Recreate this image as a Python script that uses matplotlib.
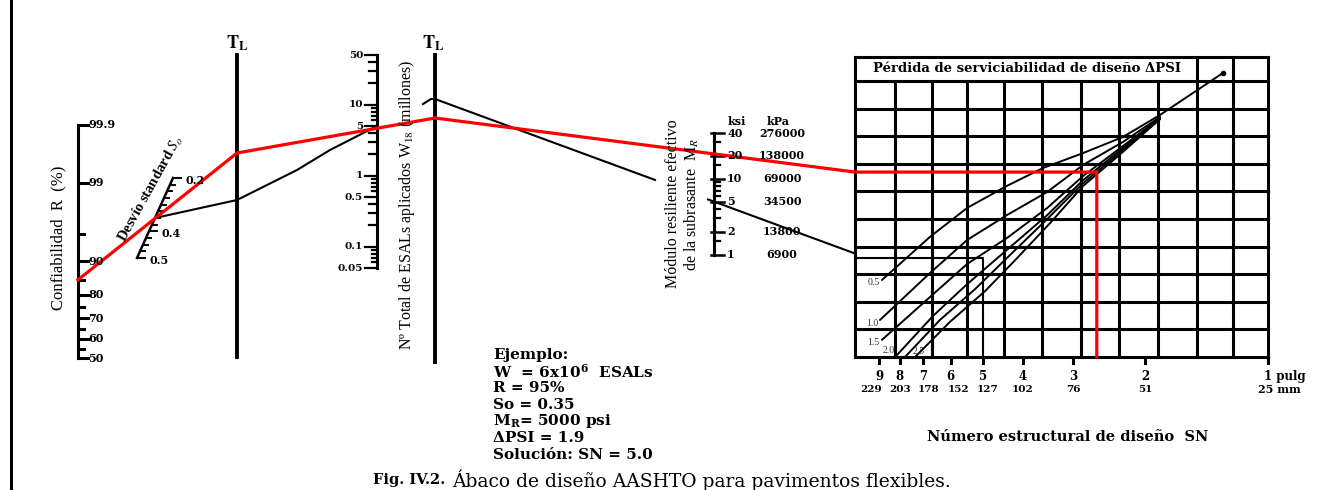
import numpy as np
import matplotlib.pyplot as plt
from statistics import NormalDist

plt.rcParams['font.family'] = ['Liberation Serif', 'DejaVu Serif']
plt.rcParams['mathtext.fontset'] = 'stix'

r_major = [99.9, 99, 90, 80, 70, 60, 50]
r_minor = [95, 85, 75, 65, 55]

s0_ticks = [0.2, 0.225, 0.25, 0.275, 0.3, 0.325, 0.35, 0.375, 0.4, 0.425, 0.45, 0.475, 0.5]
s0_labels = [0.2, 0.4, 0.5]

esal_major = [50, 10, 5, 1, 0.5, 0.1, 0.05]
esal_mid = [40, 30, 20, 4, 3, 2, 0.4, 0.3, 0.2]
esal_minor = [9, 8, 7, 6, 0.9, 0.8, 0.7, 0.6, 0.09, 0.08, 0.07, 0.06]

mr_ksi = [40, 20, 10, 5, 2, 1]
mr_kpa = ['276000', '138000', '69000', '34500', '13800', '6900']
mr_minor = [30, 15, 9, 8, 7, 6, 4, 3, 1.5]

sn_pulg = [9, 8, 7, 6, 5, 4, 3, 2, 1]
sn_mm = [229, 203, 178, 152, 127, 102, 76, 51, 25]

# curvas de perdida de serviciabilidad (SN, fila de la cuadricula)
psi_names = ['0.5', '1.0', '1.5', '2.0', '', '2.5']
psi_sn = [
    [8.85, 6.75, 5.47, 4.37, 3.56, 2.84, 2.27, 1.84, 1.29],
    [8.95, 6.75, 5.47, 4.37, 3.48, 2.84, 2.27, 1.84],
    [8.85, 6.75, 5.47, 4.37, 3.48, 2.84, 2.27, 1.84],
    [8.13, 6.63, 5.47, 4.37, 3.48, 2.84, 2.27, 1.84],
    [7.77, 6.38, 5.23, 4.29, 3.48, 2.84, 2.27, 1.84],
    [7.34, 6.03, 4.94, 4.17, 3.42, 2.84, 2.27, 1.84],
]
psi_row = [
    [2.79, 4.35, 5.40, 6.20, 6.85, 7.39, 7.97, 8.77, 10.29],
    [1.34, 3.04, 4.24, 5.14, 5.98, 6.96, 7.79, 8.70],
    [0.62, 2.17, 3.37, 4.31, 5.40, 6.56, 7.64, 8.66],
    [0.07, 1.49, 2.64, 3.88, 5.14, 6.41, 7.57, 8.66],
    [0.00, 1.34, 2.46, 3.70, 5.00, 6.30, 7.50, 8.62],
    [0.00, 1.27, 2.39, 3.51, 4.86, 6.20, 7.43, 8.62],
]

# lineas del ejemplo
red_R, red_tl1, red_tl2, red_row, red_sn = 85, 153, 118, 6.7, 2.63
blk_s0, blk_tl1, blk_esal, blk_tl2, blk_mr, blk_row, blk_sn = 0.35, 200, 5, 99, 5, 3.6, 5

ejemplo = ['Ejemplo:', r'W  = 6x10$^{\mathbf{6}}$  ESALs', 'R = 95%', 'So = 0.35',
           r'M$_{\mathbf{R}}$= 5000 psi', 'ΔPSI = 1.9', 'Solución: SN = 5.0']

# ---- geometria del abaco (pixeles) ----
R_X, TL1_X, ESAL_X, TL2_X, MR_X = 78, 237, 377, 435, 714
S0_P0, S0_P1 = np.array([173, 178]), np.array([137, 258])
SN_L, SN_R, SN_TOP, SN_BOT, TITLE_TOP = 855, 1268, 81, 357, 57
grid_x = [855, 895, 932, 967, 1004, 1042, 1081, 1119, 1158, 1197, 1233, 1268]
mm_dx = {229: -8, 203: 0, 178: 5, 152: 8, 127: 5}


def r_y(r):
    return 358 - 75.4 * NormalDist().inv_cdf(r / 100)


def esal_y(w):
    return 55 + 71 * np.log10(50 / w)


def mr_y(m):
    return 133 + 76 * np.log10(40 / m)


def sn_x(sn):
    return 1268 - 407.7 * np.log10(np.asarray(sn))


def row_y(r):
    return SN_BOT - 27.6 * np.asarray(r)


def s0_pt(s):
    t = (s - 0.2) / 0.3
    return S0_P0 + t * (S0_P1 - S0_P0)


K = 'black'
SC = 2.2   # grosor de escalas
HB = dict(family='DejaVu Serif', fontweight='bold', math_fontfamily='dejavuserif')

fig = plt.figure(figsize=(13.27, 4.90), dpi=100)
ax = fig.add_axes([0, 0, 1, 1])
ax.set_xlim(0, 1327)
ax.set_ylim(490, 0)
ax.axis('off')

# borde izquierdo
ax.plot([11, 11], [0, 490], color=K, lw=2.2)

# escala de confiabilidad
ax.plot([R_X, R_X], [r_y(99.9), r_y(50)], color=K, lw=SC)
for r in r_major:
    ax.plot([R_X, R_X + 10], [r_y(r)] * 2, color=K, lw=SC)
    ax.text(R_X + 10, r_y(r), f'{r:g}', fontsize=8, ha='left', va='center', **HB)
for r in r_minor:
    ax.plot([R_X, R_X + 6], [r_y(r)] * 2, color=K, lw=SC)
ax.text(58, 238, 'Confiabilidad  R  (%)', rotation=90, fontsize=12, ha='center', va='center')

# escala de desvio standard
ax.plot([S0_P0[0], S0_P1[0]], [S0_P0[1], S0_P1[1]], color=K, lw=1.8)
for s in s0_ticks:
    p = s0_pt(s)
    ln = 8 if s in s0_labels else 5
    ax.plot([p[0], p[0] + ln], [p[1], p[1]], color=K, lw=1.4)
for s in s0_labels:
    p = s0_pt(s)
    ax.text(p[0] + 12, p[1] + 2, f'{s:g}', fontsize=8, ha='left', va='center', **HB)
ax.text(151, 189, r'Desvío standard $S_o$', rotation=61, fontsize=10.5, fontweight='bold',
        ha='center', va='center', rotation_mode='anchor')

# lineas de pivote T_L
ax.plot([TL1_X, TL1_X], [55, 357], color=K, lw=2.8)
ax.plot([TL2_X, TL2_X], [55, 362], color=K, lw=2.8)
for x in (TL1_X, TL2_X - 2):
    ax.text(x, 43, r'$\mathbf{T_L}$', fontsize=13, ha='center', va='center')

# escala de ESALs
ax.plot([ESAL_X, ESAL_X], [esal_y(50), esal_y(0.05)], color=K, lw=SC)
for w in esal_major:
    ax.plot([ESAL_X - 12, ESAL_X], [esal_y(w)] * 2, color=K, lw=1.6)
    ax.text(ESAL_X - 14, esal_y(w), f'{w:g}', fontsize=7.5, ha='right', va='center', **HB)
for w in esal_mid:
    ax.plot([ESAL_X - 8, ESAL_X], [esal_y(w)] * 2, color=K, lw=1.6)
for w in esal_minor:
    ax.plot([ESAL_X - 5, ESAL_X], [esal_y(w)] * 2, color=K, lw=1.6)
ax.text(407, 205, r'Nº Total de ESALs aplicados W$_{18}$ (millones)', rotation=90,
        fontsize=11.5, ha='center', va='center')

# escala de modulo resiliente
ax.plot([MR_X, MR_X], [mr_y(40), mr_y(1)], color=K, lw=SC)
for m, kp in zip(mr_ksi, mr_kpa):
    ax.plot([MR_X - 3, MR_X + 10], [mr_y(m)] * 2, color=K, lw=1.8)
    ax.text(MR_X + 13, mr_y(m), f'{m:g}', fontsize=8, ha='left', va='center', **HB)
    ax.text(782, mr_y(m), kp, fontsize=8, ha='center', va='center', **HB)
for m in mr_minor:
    ax.plot([MR_X, MR_X + 6], [mr_y(m)] * 2, color=K, lw=1.6)
ax.text(737, 121, 'ksi', fontsize=8, ha='center', va='center', **HB)
ax.text(778, 121, 'kPa', fontsize=8, ha='center', va='center', **HB)
ax.text(683, 204, 'Módulo resiliente efectivo\nde la subrasante  M$_R$', rotation=90,
        fontsize=11.5, ha='center', va='center', multialignment='center', linespacing=1.15)

# cuadricula de numero estructural
for y in row_y(np.arange(11)):
    ax.plot([SN_L, SN_R], [y, y], color=K, lw=SC)
ax.plot([SN_L, SN_R], [TITLE_TOP, TITLE_TOP], color=K, lw=SC)
for x in grid_x:
    top = TITLE_TOP if x in (SN_L, 1197, 1233, SN_R) else SN_TOP
    ax.plot([x, x], [top, SN_BOT], color=K, lw=SC)
ax.text(1027, 69, 'Pérdida de serviciabilidad de diseño ΔPSI', fontsize=9.5,
        ha='center', va='center', **HB)

for name, s, r in zip(psi_names, psi_sn, psi_row):
    xs, ys = sn_x(s), row_y(r)
    ax.plot(xs, ys, color=K, lw=1.4, solid_capstyle='round')
    if name in ('0.5', '1.0', '1.5'):
        ax.text(xs[0] - 2, ys[0] + 3, name, fontsize=7, ha='right', va='center', color='#333333')
    elif name == '2.0':
        ax.text(xs[0] - 2, ys[0] - 5, name, fontsize=7, ha='right', va='center', color='#333333')
    elif name == '2.5':
        ax.text(xs[0] - 2, ys[0] - 6, name, fontsize=7, ha='left', va='center', color='#333333')
ax.plot(sn_x(psi_sn[0][-1]), row_y(psi_row[0][-1]), 'o', color=K, ms=3)

for p, mm in zip(sn_pulg, sn_mm):
    x = sn_x(p)
    ax.plot([x, x], [SN_BOT, SN_BOT + 6], color=K, lw=SC)
    if p == 1:
        ax.text(x - 4, 376, '1 pulg', fontsize=8.5, ha='left', va='center', **HB)
        ax.text(x - 10, 389, '25 mm', fontsize=8, ha='left', va='center', **HB)
    else:
        ax.text(x, 376, str(p), fontsize=8.5, ha='center', va='center', **HB)
        ax.text(x + mm_dx.get(mm, 0), 389, str(mm), fontsize=7.5, ha='center', va='center', **HB)
ax.text(1068, 437, 'Número estructural de diseño  SN', fontsize=10.5, ha='center', va='center', **HB)

# linea negra del ejemplo
p0 = s0_pt(blk_s0)
ax.plot([p0[0], TL1_X, 263, 297, 330, ESAL_X], [p0[1], blk_tl1, 187, 170, 150, esal_y(blk_esal)],
        color=K, lw=1.5)
ax.plot([423, 431, TL2_X], [104, 99, blk_tl2], color=K, lw=1.5)
slope = (mr_y(blk_mr) - blk_tl2) / (MR_X - TL2_X)
yb = blk_tl2 + slope * (SN_L - TL2_X)
ax.plot([TL2_X, 655], [blk_tl2, blk_tl2 + slope * (655 - TL2_X)], color=K, lw=1.5)
ax.plot([708, SN_L], [blk_tl2 + slope * (708 - TL2_X), yb], color=K, lw=1.5)
xb = sn_x(blk_sn)
ax.plot([SN_L, xb, xb], [row_y(blk_row), row_y(blk_row), SN_BOT], color=K, lw=1.5)

# linea roja del ejemplo
xr = sn_x(red_sn)
ax.plot([R_X, TL1_X, TL2_X, SN_L, xr, xr],
        [r_y(red_R), red_tl1, red_tl2, row_y(red_row), row_y(red_row), SN_BOT],
        color='#ff0000', lw=2.3, solid_joinstyle='miter')

# bloque del ejemplo
for i, t in enumerate(ejemplo):
    ax.text(493, 355 + 16.6 * i, t, fontsize=11, ha='left', va='center', **HB)

# pie de figura
ax.text(373, 480, 'Fig. IV.2.', fontsize=10.5, ha='left', va='center', **HB)
ax.text(452, 480, 'Ábaco de diseño AASHTO para pavimentos flexibles.', fontsize=13.5,
        family='DejaVu Serif', ha='left', va='center')

fig.savefig('out.png', dpi=100)
